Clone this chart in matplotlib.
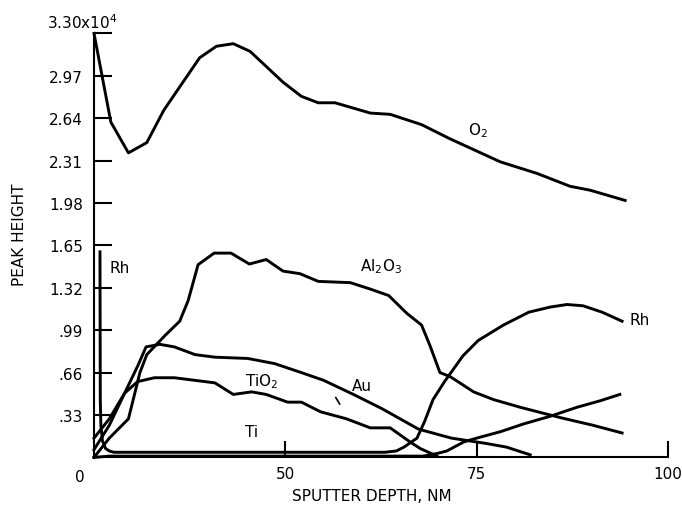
#! /usr/bin/env python3
import matplotlib
matplotlib.use("Agg")
import matplotlib.pyplot as plt

# Profundidad (nm) y altura de pico (x10^4)
o2_x = [25, 27.2, 29.5, 31.9, 34.1, 36.5, 38.8, 41.0, 43.2, 45.4, 49.7, 52.1,
        54.3, 56.5, 61.1, 63.7, 67.8, 71.5, 75.9, 78.1, 82.9, 87.2, 89.8, 94.4]
o2_y = [3.30, 2.61, 2.37, 2.45, 2.70, 2.91, 3.11, 3.20, 3.22, 3.16, 2.92, 2.81,
        2.76, 2.76, 2.68, 2.67, 2.59, 2.48, 2.36, 2.30, 2.21, 2.11, 2.08, 2.00]

al2o3_x = [25.0, 27.0, 29.5, 31.0, 31.9, 34.3, 36.2, 37.3, 38.6, 40.7, 42.9, 45.3,
           47.5, 49.7, 51.9, 54.3, 58.5, 61.1, 63.5, 65.9, 67.8, 68.9, 70.2,
           71.5, 72.8, 74.6, 77.2, 80.7, 85.9, 90.2, 94.0]
al2o3_y = [0.0, 0.15, 0.30, 0.66, 0.80, 0.95, 1.06, 1.22, 1.50, 1.59, 1.59, 1.505,
           1.54, 1.45, 1.43, 1.37, 1.36, 1.31, 1.26, 1.12, 1.03, 0.87, 0.66,
           0.63, 0.58, 0.51, 0.45, 0.39, 0.31, 0.25, 0.19]

rh_x = [25.78, 25.82, 25.9, 26.1, 26.5, 27.0, 27.6, 40, 55, 63.0, 64.5, 65.5,
        67.2, 68.2, 69.3, 70.8, 73.2, 75.2, 78.5, 81.8, 84.6, 86.8, 88.9, 91.4, 94.0]
rh_y = [1.60, 0.45, 0.25, 0.13, 0.07, 0.05, 0.04, 0.04, 0.04, 0.04, 0.05, 0.08,
        0.15, 0.28, 0.45, 0.59, 0.79, 0.91, 1.03, 1.13, 1.17, 1.19, 1.18, 1.13, 1.06]

tio2_x = [25, 27.0, 29.0, 30.7, 31.8, 33.6, 35.5, 38.2, 40.8, 45.1, 48.6, 52.1,
          55.0, 58.9, 62.6, 67.4, 71.7, 76.1, 78.9, 82.0]
tio2_y = [0.15, 0.30, 0.50, 0.71, 0.86, 0.88, 0.86, 0.80, 0.78, 0.77, 0.73, 0.66,
          0.60, 0.49, 0.38, 0.22, 0.15, 0.11, 0.08, 0.02]

au_x = [25, 27.0, 29.0, 30.7, 32.9, 35.5, 40.8, 43.2, 45.6, 47.5, 50.3, 52.1,
        54.6, 58.0, 61.1, 63.7, 66.3, 67.6, 69.8]
au_y = [0.06, 0.25, 0.50, 0.59, 0.62, 0.62, 0.58, 0.49, 0.51, 0.49, 0.43, 0.43,
        0.355, 0.30, 0.23, 0.23, 0.12, 0.07, 0.01]

ti_x = [25, 27, 40, 60, 68.0, 69.8, 71.1, 73.3, 75.0, 78.1, 81.1, 84.6, 88.1, 91.1, 93.7]
ti_y = [0.0, 0.01, 0.01, 0.01, 0.01, 0.03, 0.05, 0.12, 0.15, 0.20, 0.26, 0.32, 0.39, 0.44, 0.49]

y_ticks = [0.33, 0.66, 0.99, 1.32, 1.65, 1.98, 2.31, 2.64, 2.97, 3.30]
y_labels = [".33", ".66", ".99", "1.32", "1.65", "1.98", "2.31", "2.64", "2.97", ""]
x_ticks = [50, 75, 100]
x_labels = ["50", "75", "100"]

plt.rcParams["font.family"] = ["DejaVu Sans"]
plt.rcParams["font.size"] = 11

fig = plt.figure(figsize=(6.82, 5.10), dpi=100)
ax = fig.add_axes([94 / 682, 51.6 / 510, 574 / 682, 424 / 510])

for xs, ys in [(o2_x, o2_y), (al2o3_x, al2o3_y), (rh_x, rh_y),
               (tio2_x, tio2_y), (au_x, au_y), (ti_x, ti_y)]:
    ax.plot(xs, ys, color="black", lw=2.1, clip_on=False, solid_joinstyle="round")

ax.set_xlim(25, 100)
ax.set_ylim(0, 3.30)
ax.spines["top"].set_visible(False)
ax.spines["right"].set_visible(False)
ax.spines["left"].set_linewidth(1.5)
ax.spines["bottom"].set_linewidth(1.5)

ax.set_yticks(y_ticks)
ax.set_yticklabels(y_labels)
ax.set_xticks(x_ticks)
ax.set_xticklabels(x_labels)
ax.tick_params(axis="y", direction="in", length=13, width=1.5, pad=8)
ax.tick_params(axis="x", direction="in", length=11.5, width=1.5, pad=6)

# Etiquetas de las curvas
ax.text(28.4, 1.48, "Rh", ha="center", va="center")
ax.text(73.9, 2.55, "O$_2$", ha="left", va="center")
ax.text(59.8, 1.49, "Al$_2$O$_3$", ha="left", va="center")
ax.text(95.0, 1.07, "Rh", ha="left", va="center", clip_on=False)
ax.text(44.7, 0.60, "TiO$_2$", ha="left", va="center")
ax.text(58.7, 0.56, "Au", ha="left", va="center")
ax.text(44.7, 0.20, "Ti", ha="left", va="center")
ax.annotate("", xy=(56.4, 0.485), xytext=(57.3, 0.395),
            arrowprops=dict(arrowstyle="-", lw=1.2, color="black"))

ax.text(23.2, -0.145, "0", ha="center", va="center", clip_on=False)
fig.text(47 / 682, 1 - 23 / 510, "3.30x10$^4$", ha="left", va="center", fontsize=11)
fig.text(20 / 682, 1 - 235 / 510, "PEAK HEIGHT", rotation=90, ha="center", va="center")
fig.text(372 / 682, 1 - 497 / 510, "SPUTTER DEPTH, NM", ha="center", va="center")

fig.savefig("out.png", dpi=100)
